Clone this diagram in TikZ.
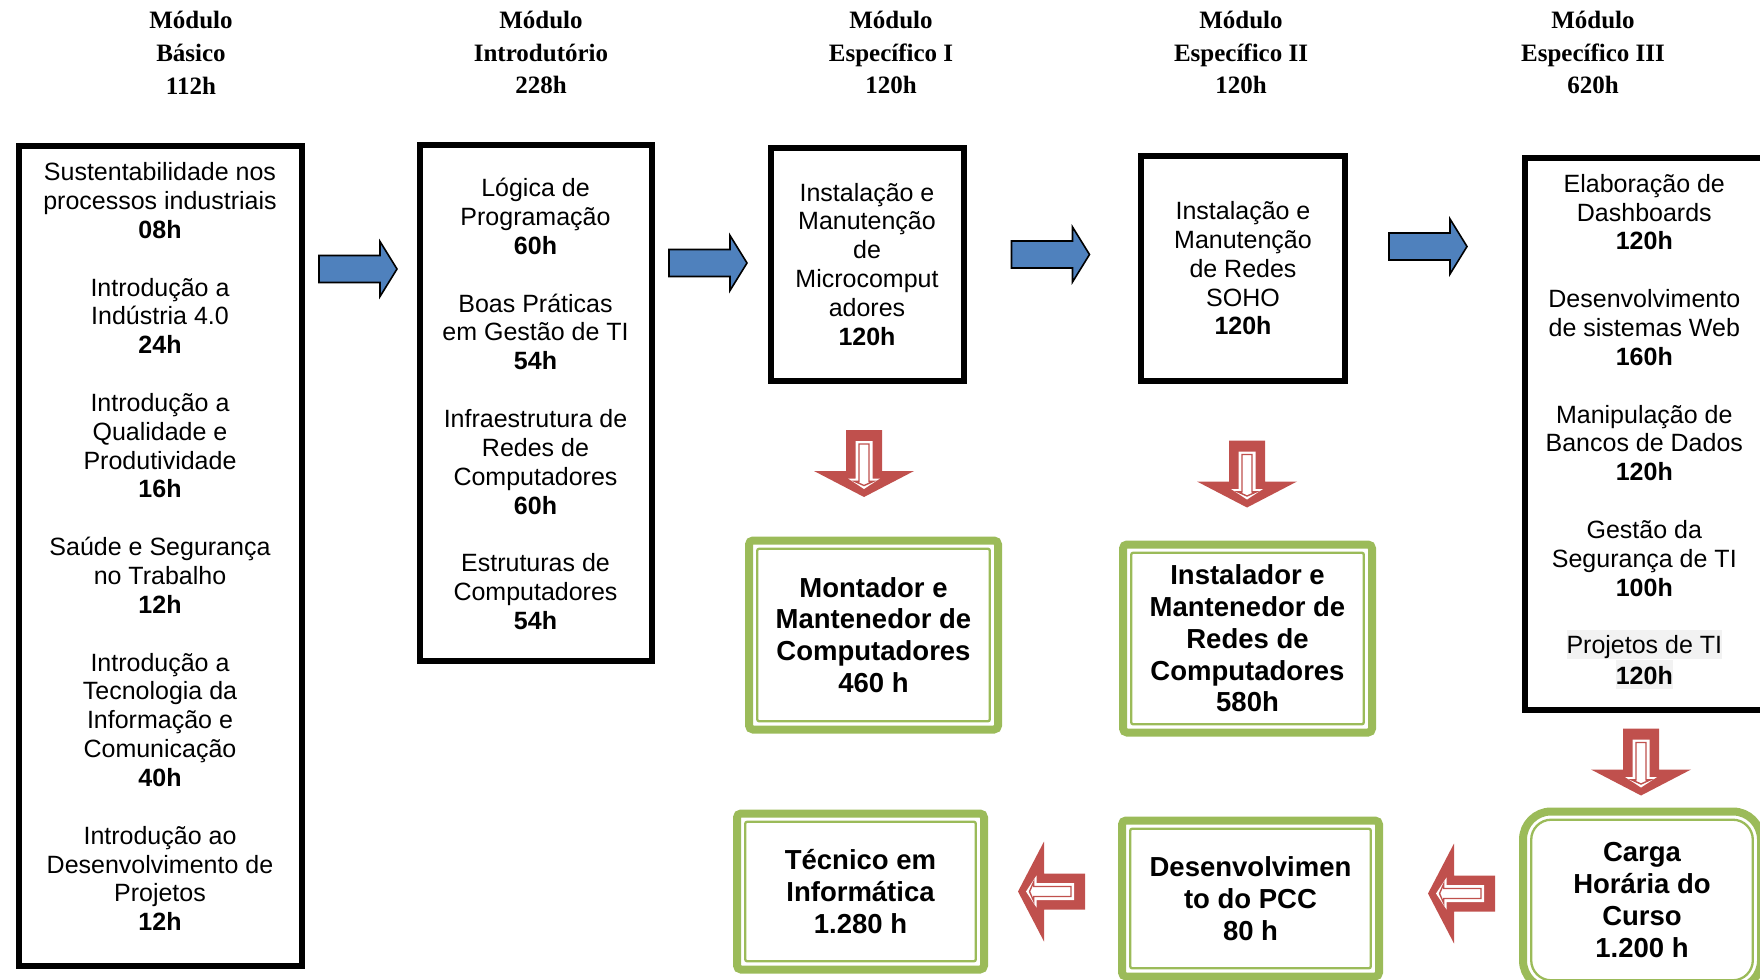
\documentclass[tikz,border=0pt]{standalone}
\usepackage{fontspec}
\setmainfont{Liberation Sans}
\newfontfamily\headserif{Liberation Serif}
\definecolor{arrowblue}{HTML}{4F81BD}
\definecolor{arrowred}{HTML}{C0504D}
\definecolor{boxgreen}{HTML}{9BBB59}
\definecolor{hlgray}{HTML}{F2F2F2}
\newcommand\grpgap{\\[28.85pt]}
\newcommand\hlt[1]{{\setlength{\fboxsep}{0pt}\colorbox{hlgray}{\rule[-4.5pt]{0pt}{28.8pt}#1}}}
\tikzset{
  hdr/.style={font=\headserif\bfseries\fontsize{25}{32.6}\selectfont, align=center, inner sep=0pt},
  modbox/.style={draw=black, line width=6pt, inner sep=0pt, line join=miter},
  bodytext/.style={font=\fontsize{25}{28.85}\selectfont, align=center, inner sep=0pt},
  greenbox/.style={draw=boxgreen, line width=8pt, inner sep=0pt, rounded corners=4pt, align=center,
     font=\bfseries\fontsize{27.5}{31.7}\selectfont},
  bluearrow/.pic={
    \draw[fill=arrowblue, draw=black, line width=1.6pt, line join=miter]
      (-39,-13.5) -- (22,-13.5) -- (22,-27.5) -- (39,0) -- (22,27.5) -- (22,13.5) -- (-39,13.5) -- cycle;
  },
  redarrow/.pic={
    \fill[arrowred] (-18,-33.5) -- (18,-33.5) -- (18,7.5) -- (50,7.5) -- (0,33.5) -- (-50,7.5) -- (-18,7.5) -- cycle;
    \fill[white] (-8.5,-22.5) -- (8.5,-22.5) -- (8.5,15) -- (16,15) -- (0,25.5) -- (-16,15) -- (-8.5,15) -- cycle;
    \draw[arrowred, line width=1.4pt, line join=miter]
      (-5,-19.5) -- (5,-19.5) -- (5,17.8) -- (9.5,17.8) -- (0,22) -- (-9.5,17.8) -- (-5,17.8) -- cycle;
  }
}
\begin{document}
\begin{tikzpicture}[x=1pt,y=-1pt]
\useasboundingbox (0,0) rectangle (1760,979);
\clip (0,0) rectangle (1760,979);

% headers
\node[hdr] (h1) at (191,52.8)  {Módulo\\Básico\\112h};
\node[hdr] (h2) at (541,52.8)  {Módulo\\Introdutório\\228h};
\node[hdr] (h3) at (891,52.8)  {Módulo\\Específico I\\120h};
\node[hdr] (h4) at (1241,52.8) {Módulo\\Específico II\\120h};
\node[hdr] (h5) at (1593,52.8) {Módulo\\Específico III\\620h};

% module boxes
\node[modbox, minimum width=283pt, minimum height=820.5pt] (b1) at (160,555.75) {};
\node[modbox, minimum width=231.5pt, minimum height=515.5pt] (b2) at (535.75,402.75) {};
\node[modbox, minimum width=193pt, minimum height=233pt] (b3) at (867,264) {};
\node[modbox, minimum width=204pt, minimum height=225pt] (b4) at (1243,268) {};
\node[modbox, minimum width=250pt, minimum height=552.3pt] (b5) at (1650,433.9) {};

\node[bodytext] (t1) at (160,546.6) {Sustentabilidade nos\\processos industriais\\\textbf{08h}\grpgap
Introdução a\\Indústria 4.0\\\textbf{24h}\grpgap
Introdução a\\Qualidade e\\Produtividade\\\textbf{16h}\grpgap
Saúde e Segurança\\no Trabalho\\\textbf{12h}\grpgap
Introdução a\\Tecnologia da\\Informação e\\Comunicação\\\textbf{40h}\grpgap
Introdução ao\\Desenvolvimento de\\Projetos\\\textbf{12h}};

\node[bodytext] (t2) at (535.5,404) {Lógica de\\Programação\\\textbf{60h}\grpgap
Boas Práticas\\em Gestão de TI\\\textbf{54h}\grpgap
Infraestrutura de\\Redes de\\Computadores\\\textbf{60h}\grpgap
Estruturas de\\Computadores\\\textbf{54h}};

\node[bodytext] (t3) at (867,264.3) {Instalação e\\Manutenção\\de\\Microcomput\\adores\\\textbf{120h}};
\node[bodytext] (t4) at (1243,268.3) {Instalação e\\Manutenção\\de Redes\\SOHO\\\textbf{120h}};

\node[bodytext] (t5) at (1644.3,431.5) {Elaboração de\\Dashboards\\\textbf{120h}\grpgap
Desenvolvimento\\de sistemas Web\\\textbf{160h}\grpgap
Manipulação de\\Bancos de Dados\\\textbf{120h}\grpgap
Gestão da\\Segurança de TI\\\textbf{100h}\grpgap
\hlt{Projetos de TI}\\\hlt{\textbf{120h}}};

% blue arrows
\coordinate (ba1) at (358,269);
\coordinate (ba2) at (708,263);
\coordinate (ba3) at (1050.5,254.5);
\coordinate (ba4) at (1428,246.5);
\foreach \c in {ba1,ba2,ba3,ba4} \pic at (\c) {bluearrow};

% green result boxes
\node[greenbox, minimum width=249pt, minimum height=189pt] (g1) at (873.5,635)
  {Montador e\\Mantenedor de\\Computadores\\460 h};
\node[greenbox, minimum width=249pt, minimum height=188pt] (g2) at (1247.5,638.5)
  {Instalador e\\Mantenedor de\\Redes de\\Computadores\\580h};
\node[greenbox, minimum width=247pt, minimum height=156pt] (g3) at (860.5,891.5)
  {Técnico em\\Informática\\1.280 h};
\node[greenbox, minimum width=257pt, minimum height=156pt] (g4) at (1250.5,898.5)
  {Desenvolvimen\\to do PCC\\80 h};
\node[greenbox, rounded corners=28pt, minimum width=238pt, minimum height=177pt] (g5) at (1642,900)
  {Carga\\Horária do\\Curso\\1.200 h};
\foreach \g in {g1,g2,g3,g4}
  \draw[boxgreen, line width=2.3pt, rounded corners=2pt]
    ([shift={(12.2,12.2)}]\g.north west) rectangle ([shift={(-12.2,-12.2)}]\g.south east);
\draw[boxgreen, line width=2.3pt, rounded corners=20pt]
    ([shift={(12.2,12.2)}]g5.north west) rectangle ([shift={(-12.2,-12.2)}]g5.south east);

% red arrows
\coordinate (ra1) at (864,463.5);
\coordinate (ra2) at (1247,474);
\coordinate (ra3) at (1641,762);
\foreach \c in {ra1,ra2,ra3} \pic at (\c) {redarrow};
\coordinate (la1) at (1051.5,891.5);
\coordinate (la2) at (1461.5,893.5);
\foreach \c in {la1,la2} \pic[rotate=-90] at (\c) {redarrow};
\end{tikzpicture}
\end{document}
